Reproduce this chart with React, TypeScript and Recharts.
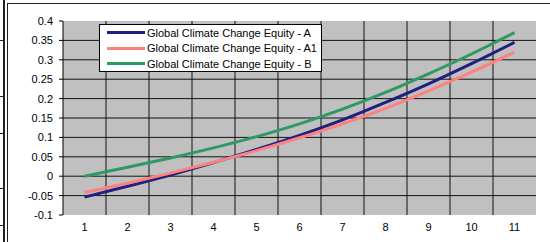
import React from 'react';
import { LineChart, Line, XAxis, YAxis, CartesianGrid } from 'recharts';

const categories = [1, 2, 3, 4, 5, 6, 7, 8, 9, 10, 11];
const seriesA = [-0.054, -0.026, 0.003, 0.035, 0.069, 0.105, 0.145, 0.19, 0.238, 0.29, 0.345];
const seriesA1 = [-0.042, -0.018, 0.008, 0.036, 0.066, 0.099, 0.135, 0.175, 0.22, 0.268, 0.32];
const seriesB = [0.0, 0.023, 0.047, 0.073, 0.102, 0.135, 0.173, 0.216, 0.264, 0.315, 0.37];
const yTicks = [-0.1, -0.05, 0, 0.05, 0.1, 0.15, 0.2, 0.25, 0.3, 0.35, 0.4];
const seriesNames = [
  'Global Climate Change Equity - A',
  'Global Climate Change Equity - A1',
  'Global Climate Change Equity - B',
];
const seriesColors = ['#1F1F7F', '#FF8080', '#2E9966'];

const data = categories.map((c, i) => ({ x: c, a: seriesA[i], a1: seriesA1[i], b: seriesB[i] }));

const FONT = '"Liberation Sans", Arial, sans-serif';
const Y_MIN = -0.1;
const Y_MAX = 0.4;

const LegendBox = () => (
  <div
    style={{
      position: 'absolute',
      left: 99,
      top: 24,
      width: 221,
      height: 46,
      border: '1px solid #000',
      background: '#fff',
      fontFamily: FONT,
      fontSize: 11,
      color: '#000',
      paddingTop: 0,
    }}
  >
    {seriesNames.map((n, i) => (
      <div key={n} style={{ display: 'flex', alignItems: 'center', height: 15.5 }}>
        <div style={{ width: 38, height: 3, background: seriesColors[i], marginLeft: 7, marginRight: 2 }} />
        <span style={{ whiteSpace: 'nowrap' }}>{n}</span>
      </div>
    ))}
  </div>
);

export default function App() {
  const frame = '#222';
  return (
    <div style={{ position: 'absolute', left: 0, top: 0, width: 550, height: 242, overflow: 'hidden', background: '#fff' }}>
      <div style={{ position: 'absolute', left: 3, top: 0, width: 2, height: 242, background: frame }} />
      {[40, 96, 133, 188, 225].map((y) => (
        <div key={y} style={{ position: 'absolute', left: 0, top: y, width: 4, height: 1, background: frame }} />
      ))}
      <div style={{ position: 'absolute', left: 7, top: 3, width: 1, height: 239, background: frame }} />
      <div style={{ position: 'absolute', left: 7, top: 3, width: 543, height: 1, background: frame }} />
      <div style={{ position: 'absolute', left: 0, top: 0 }}>
        <LineChart width={550} height={242} data={data} margin={{ top: 21, right: 14, bottom: 0, left: 0 }}>
          <CartesianGrid
            fill="#C0C0C0"
            fillOpacity={1}
            stroke="#000"
            strokeOpacity={0.9}
            horizontalCoordinatesGenerator={({ offset }: any) =>
              yTicks
                .filter((v) => v > Y_MIN + 1e-9 && v < Y_MAX - 1e-9)
                .map((v) => offset.top + (offset.height * (Y_MAX - v)) / (Y_MAX - Y_MIN))
            }
            verticalCoordinatesGenerator={({ offset }: any) =>
              categories.slice(1).map((_, i) => offset.left + (offset.width * (i + 1)) / categories.length)
            }
          />
          <XAxis
            dataKey="x"
            type="category"
            scale="band"
            axisLine={false}
            tickLine={false}
            height={27}
            tick={{ fill: '#000', fontSize: 11, fontFamily: FONT }}
          />
          <YAxis
            type="number"
            domain={[Y_MIN, Y_MAX]}
            ticks={yTicks}
            width={63}
            axisLine={{ stroke: '#000' }}
            tickLine={{ stroke: '#000' }}
            tickSize={4}
            tickMargin={6}
            interval={0}
            tickFormatter={(v: number) => String(Number(v.toFixed(2)))}
            tick={{ fill: '#000', fontSize: 11, fontFamily: FONT }}
          />
          <Line dataKey="a" name={seriesNames[0]} stroke={seriesColors[0]} strokeWidth={3} type="monotone" dot={false} isAnimationActive={false} />
          <Line dataKey="a1" name={seriesNames[1]} stroke={seriesColors[1]} strokeWidth={3} type="monotone" dot={false} isAnimationActive={false} />
          <Line dataKey="b" name={seriesNames[2]} stroke={seriesColors[2]} strokeWidth={3} type="monotone" dot={false} isAnimationActive={false} />
        </LineChart>
      </div>
      <LegendBox />
    </div>
  );
}
